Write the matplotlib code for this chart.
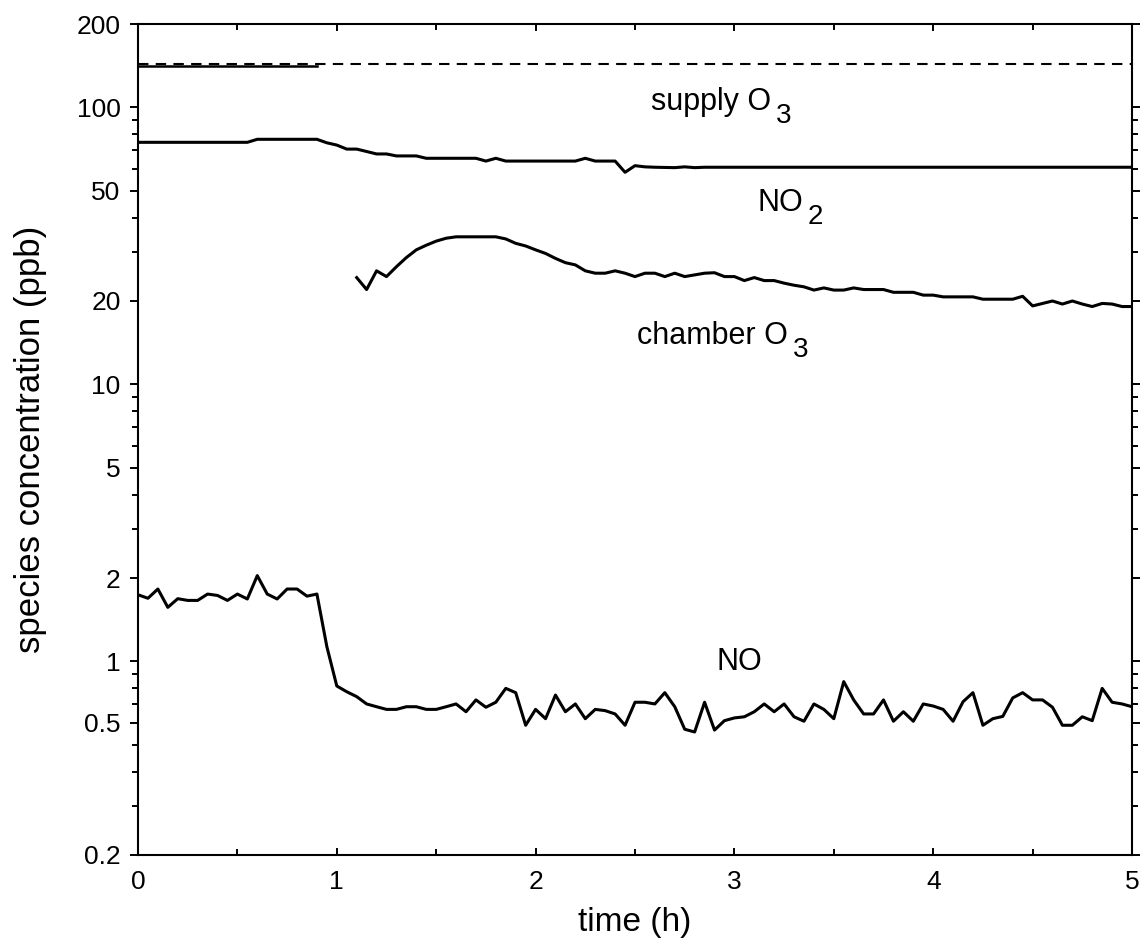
import numpy as np
import matplotlib
matplotlib.use("Agg")
import matplotlib.pyplot as plt
from matplotlib.ticker import FixedLocator, NullFormatter

plt.rcParams['font.family'] = ['Liberation Sans', 'DejaVu Sans']

# ---------------- data ----------------
# NO, sampled every 0.05 h
no_time = np.round(np.arange(0, 5.0001, 0.05), 2)
no_ppb = [1.74, 1.69, 1.825, 1.567, 1.684, 1.66, 1.66, 1.75, 1.73, 1.66,
          1.75, 1.68, 2.04, 1.75, 1.68, 1.825, 1.825, 1.72, 1.75, 1.13,
          0.815, 0.777, 0.746, 0.702, 0.686, 0.671, 0.671, 0.686, 0.686, 0.671,
          0.671, 0.686, 0.702, 0.658, 0.726, 0.683, 0.712, 0.799, 0.771, 0.588,
          0.671, 0.621, 0.756, 0.658, 0.702, 0.621, 0.671, 0.664, 0.646, 0.588,
          0.712, 0.712, 0.702, 0.771, 0.686, 0.569, 0.556, 0.712, 0.565, 0.611,
          0.625, 0.631, 0.658, 0.702, 0.658, 0.702, 0.631, 0.608, 0.702, 0.671,
          0.621, 0.845, 0.726, 0.646, 0.646, 0.726, 0.608, 0.658, 0.608, 0.702,
          0.690, 0.671, 0.608, 0.715, 0.771, 0.588, 0.621, 0.633, 0.738, 0.771,
          0.726, 0.726, 0.683, 0.588, 0.588, 0.631, 0.611, 0.799, 0.712, 0.702,
          0.686]

# NO2
no2_time = [0.00, 0.55, 0.60, 0.90, 0.95, 1.00, 1.05, 1.10, 1.15, 1.20, 1.25,
            1.30, 1.40, 1.45, 1.70, 1.75, 1.80, 1.85, 2.20, 2.25, 2.30, 2.40,
            2.45, 2.50, 2.55, 2.60, 2.70, 2.75, 2.80, 2.85, 5.00]
no2_ppb = [74.8, 74.8, 76.7, 76.7, 74.5, 73.1, 70.7, 70.7, 69.3, 67.9, 67.9,
           66.8, 66.8, 65.5, 65.5, 64.0, 65.5, 64.0, 64.0, 65.5, 64.0, 64.0,
           58.3, 61.6, 61.0, 60.8, 60.6, 61.0, 60.6, 60.8, 60.8]

# chamber O3
o3c_time = [1.10, 1.15, 1.20, 1.25, 1.30, 1.35, 1.40, 1.45, 1.50, 1.55, 1.60,
            1.80, 1.85, 1.90, 1.95, 2.00, 2.05, 2.10, 2.15, 2.20, 2.25, 2.30,
            2.35, 2.40, 2.45, 2.50, 2.55, 2.60, 2.65, 2.70, 2.75, 2.85, 2.90,
            2.95, 3.00, 3.05, 3.10, 3.15, 3.20, 3.25, 3.30, 3.35, 3.40, 3.45,
            3.50, 3.55, 3.60, 3.65, 3.75, 3.80, 3.90, 3.95, 4.00, 4.05, 4.20,
            4.25, 4.40, 4.45, 4.50, 4.60, 4.65, 4.70, 4.75, 4.80, 4.85, 4.90,
            4.95, 5.00]
o3c_ppb = [24.3, 22.0, 25.7, 24.5, 26.6, 28.7, 30.6, 31.8, 32.9, 33.7, 34.1,
           34.1, 33.5, 32.3, 31.6, 30.6, 29.7, 28.5, 27.5, 27.0, 25.7, 25.2,
           25.2, 25.7, 25.2, 24.5, 25.2, 25.2, 24.5, 25.2, 24.5, 25.2, 25.3,
           24.5, 24.5, 23.7, 24.3, 23.7, 23.7, 23.2, 22.8, 22.5, 21.9, 22.3,
           21.9, 21.9, 22.3, 22.0, 22.0, 21.5, 21.5, 21.0, 21.0, 20.7, 20.7,
           20.3, 20.3, 20.8, 19.2, 20.0, 19.5, 20.0, 19.5, 19.1, 19.6, 19.5,
           19.1, 19.1]

# supply O3: measured (solid) and set value (dashed)
o3s_meas_time = [0.0, 0.9]
o3s_meas_ppb = [141.0, 141.0]
o3s_set_time = [0.0, 5.0]
o3s_set_ppb = [143.0, 143.0]

# axis ticks
xtick_vals = [0, 1, 2, 3, 4, 5]
xtick_labels = ['0', '1', '2', '3', '4', '5']
xminor_vals = [0.5, 1.5, 2.5, 3.5, 4.5]
ytick_vals = [0.2, 0.6, 1, 2, 5, 10, 20, 50, 100, 200]
ytick_labels = ['0.2', '0.5', '1', '2', '5', '10', '20', '50', '100', '200']
yminor_vals = [0.3, 0.4, 0.5, 0.7, 0.8, 0.9, 3, 4, 6, 7, 8, 9,
               30, 40, 60, 70, 80, 90]

# series labels: (x, baseline y, main text, subscript)
labels = [(2.58, 97.8, 'supply O', '3'),
          (3.115, 42.3, 'NO', '2'),
          (2.51, 14.0, 'chamber O', '3'),
          (2.91, 0.93, 'NO', '')]

# ---------------- figure ----------------
W, H = 1143, 949
fig = plt.figure(figsize=(W / 100, H / 100), dpi=100)
L, R, T, B = 138, 1132, 24, 855
ax = fig.add_axes([L / W, 1 - B / H, (R - L) / W, (B - T) / H])

lw = 2.2
ax.plot(o3s_set_time, o3s_set_ppb, color='black', lw=1.5, ls=(0, (5, 3.5)))
ax.plot(o3s_meas_time, o3s_meas_ppb, color='black', lw=1.8)
ax.plot(no2_time, no2_ppb, color='black', lw=lw)
ax.plot(o3c_time, o3c_ppb, color='black', lw=lw)
ax.plot(no_time, no_ppb, color='black', lw=lw)

ax.set_yscale('log')
ax.set_xlim(0, 5)
ax.set_ylim(0.2, 200)

ax.yaxis.set_major_locator(FixedLocator(ytick_vals))
ax.set_yticklabels(ytick_labels)
ax.yaxis.set_minor_locator(FixedLocator(yminor_vals))
ax.yaxis.set_minor_formatter(NullFormatter())
ax.xaxis.set_major_locator(FixedLocator(xtick_vals))
ax.set_xticklabels(xtick_labels)
ax.xaxis.set_minor_locator(FixedLocator(xminor_vals))

ax.tick_params(axis='y', which='both', direction='out', left=True, right=True,
               width=1.4, labelsize=19, pad=7)
ax.tick_params(axis='y', which='major', length=5.5)
ax.tick_params(axis='y', which='minor', length=4.5)
ax.tick_params(axis='x', which='both', direction='in', top=True, bottom=True,
               width=1.4, labelsize=19, pad=11)
ax.tick_params(axis='x', which='major', length=5)
ax.tick_params(axis='x', which='minor', length=4)
for s in ax.spines.values():
    s.set_linewidth(1.5)

ax.set_xlabel('time (h)', fontsize=24, va='center')
ax.xaxis.set_label_coords(0.5, -(922 - B) / (B - T))
ax.set_ylabel('species concentration (ppb)', fontsize=25, va='center')
ax.yaxis.set_label_coords(-(L - 31) / (R - L), 0.5)

fs = 22
sub_fs = 20
fig.canvas.draw()
renderer = fig.canvas.get_renderer()
for (x, y, main, sub) in labels:
    t = ax.text(x, y, main, fontsize=fs, ha='left', va='baseline')
    if sub:
        w_px = t.get_window_extent(renderer).width
        drop = 13 if main.endswith('O') else 9
        gap = 5 if main.endswith('O') else 2
        ax.annotate(sub, xy=(x, y), xycoords='data',
                    xytext=((w_px + gap) * 0.72, -drop * 0.72),
                    textcoords='offset points', fontsize=sub_fs,
                    ha='left', va='baseline')

fig.savefig('out.png', dpi=100, facecolor='white')
